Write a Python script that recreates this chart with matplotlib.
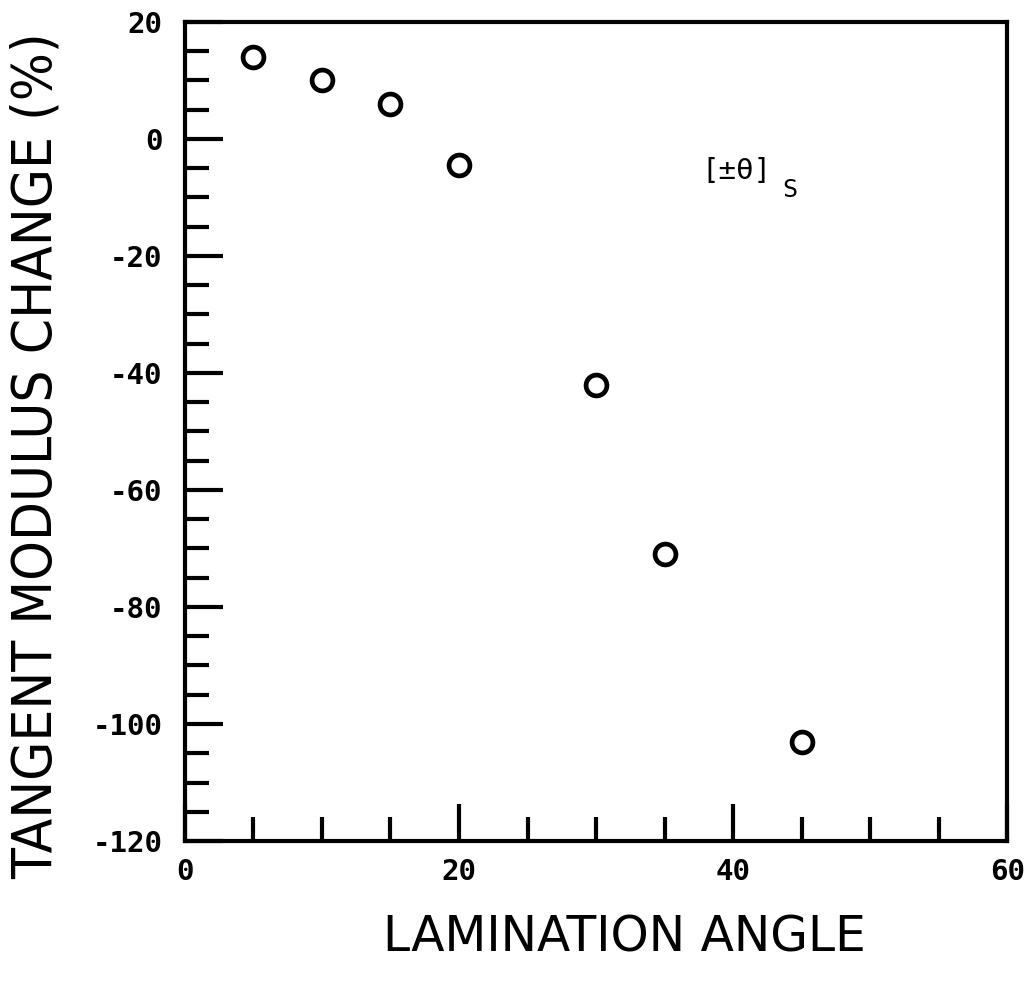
import matplotlib
matplotlib.use("Agg")
import matplotlib.pyplot as plt
from matplotlib.ticker import MultipleLocator

plt.rcParams['axes.unicode_minus'] = False

# lamination angle (deg) vs tangent modulus change (%)
angle = [5, 10, 15, 20, 30, 35, 45]
modulus_change = [14, 10, 6, -4.5, -42, -71, -103]

fig = plt.figure(figsize=(10.33, 9.81), dpi=100)
ax = fig.add_axes([0.179, 0.1427, 0.796, 0.835])

ax.plot(angle, modulus_change, 'o', ms=15, mfc='white', mec='black', mew=3.4)

ax.set_xlim(0, 60)
ax.set_ylim(-120, 20)
ax.xaxis.set_major_locator(MultipleLocator(20))
ax.xaxis.set_minor_locator(MultipleLocator(5))
ax.yaxis.set_major_locator(MultipleLocator(20))
ax.yaxis.set_minor_locator(MultipleLocator(5))

for s in ax.spines.values():
    s.set_linewidth(3)

ax.tick_params(which='both', direction='in', top=False, right=False, width=3)
ax.tick_params(which='major', length=27)
ax.tick_params(which='minor', length=17)
ax.tick_params(axis='y', which='major', pad=16)
ax.tick_params(axis='x', which='major', pad=12)

for lab in ax.get_xticklabels() + ax.get_yticklabels():
    lab.set_fontfamily('DejaVu Sans Mono')
    lab.set_fontweight('bold')
    lab.set_fontsize(21)

ax.set_xlabel('LAMINATION ANGLE', fontsize=35, family='DejaVu Sans')
ax.set_ylabel('TANGENT MODULUS CHANGE (%)', fontsize=40.5, family='DejaVu Sans',
              fontstretch='condensed')
ax.xaxis.set_label_coords(0.535, -0.088)
ax.yaxis.set_label_coords(-0.148, 0.47)

# laminate layup label
ax.text(37.7, -5.5, '[±θ]', fontsize=21, family='DejaVu Sans Mono', va='center')
ax.text(43.6, -8.8, 'S', fontsize=18, family='DejaVu Sans Mono', va='center')

fig.savefig('out.png', dpi=100)
